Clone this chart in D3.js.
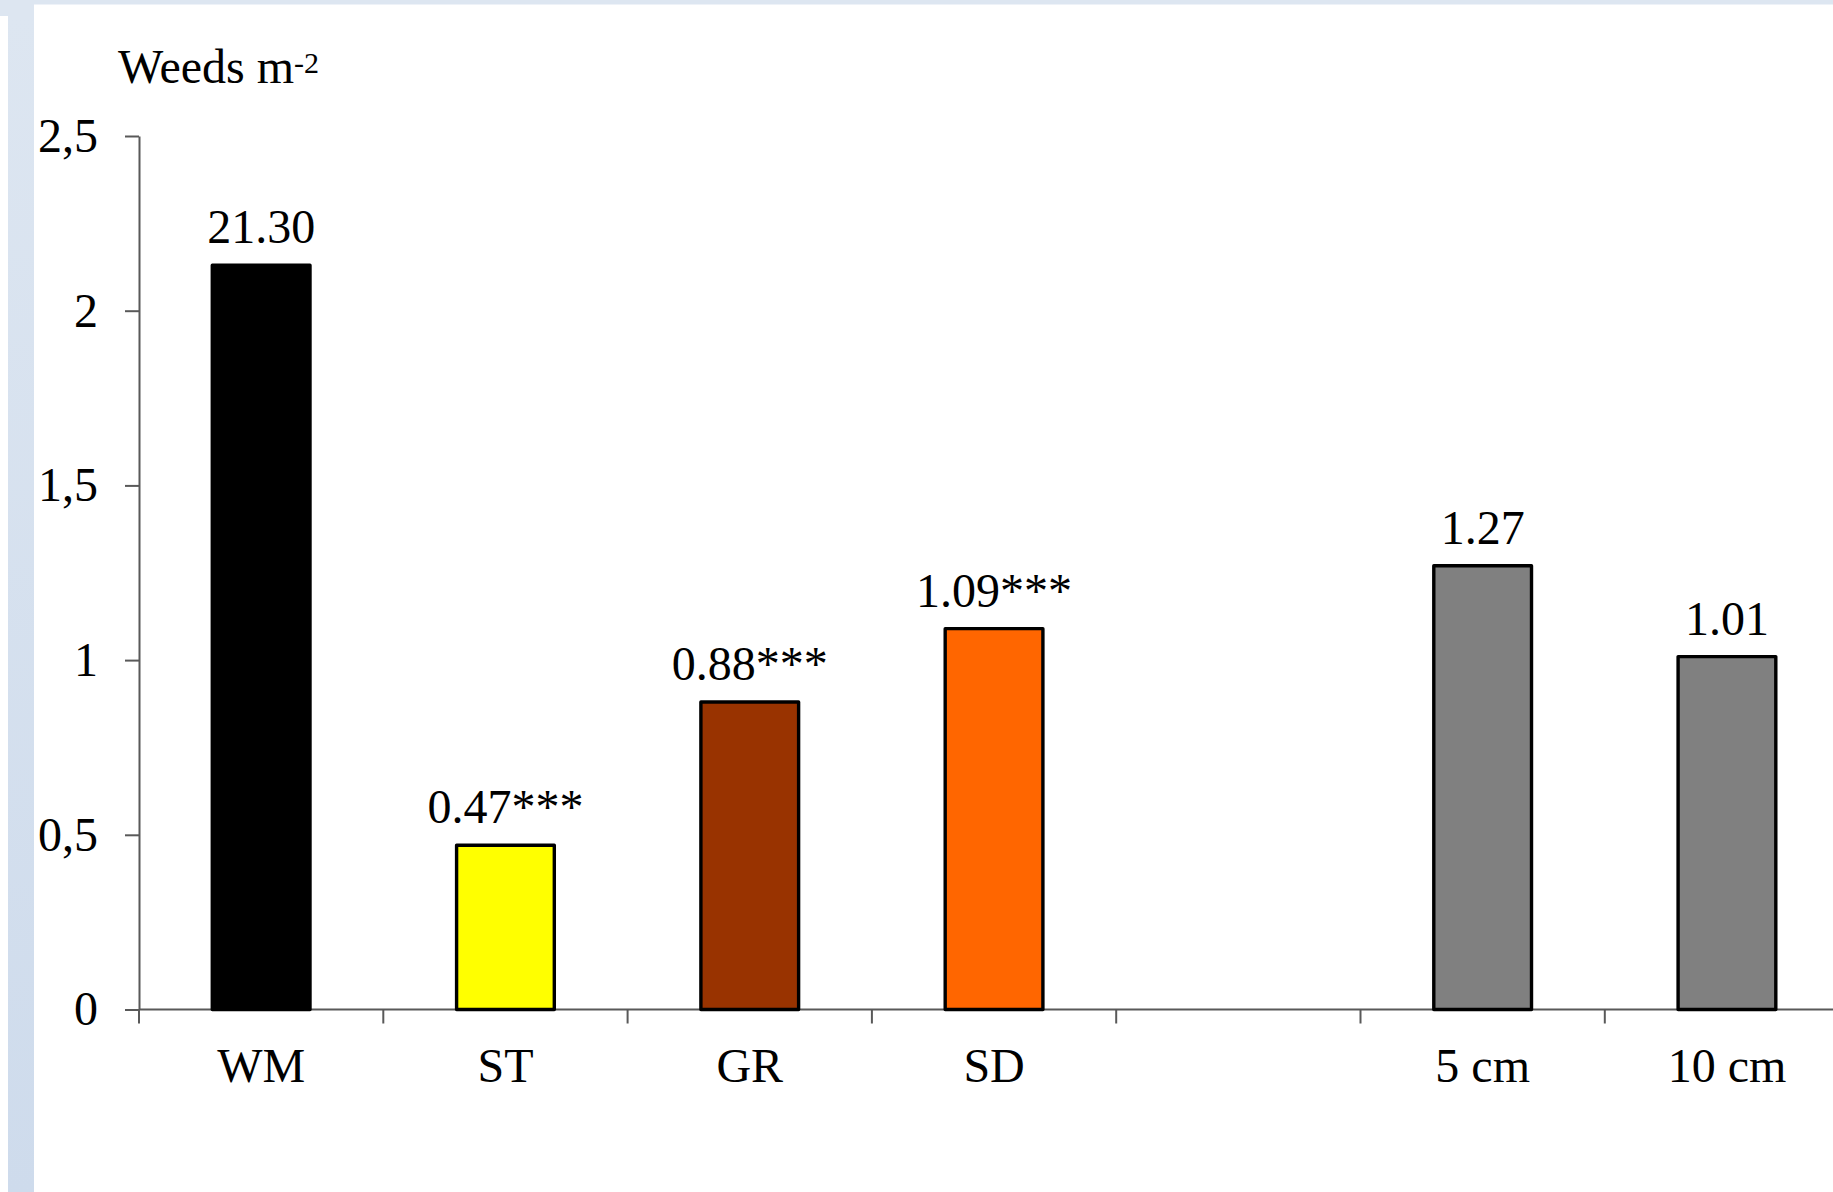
<!DOCTYPE html>
<html>
<head>
<meta charset="utf-8">
<script src="https://cdn.jsdelivr.net/npm/d3@7"></script>
<style>
  html, body { margin: 0; padding: 0; background: #ffffff; }
  svg { display: block; }
  text { font-family: "Liberation Serif", "Times New Roman", serif; fill: #000; }
</style>
</head>
<body>
<svg id="chart" width="1833" height="1192"></svg>
<script>
// Weed density per treatment (weeds per m²)
const categories   = ["WM", "ST", "GR", "SD", "", "5 cm", "10 cm"];
const weedValues   = [21.30, 0.47, 0.88, 1.09, null, 1.27, 1.01];
const significance = ["", "***", "***", "***", "", "", ""];
// WM is off the 0–2.5 scale, so its bar is drawn at one tenth of its value
const plotDivisor  = [10, 1, 1, 1, 1, 1, 1];
const yTickValues  = [0, 0.5, 1, 1.5, 2, 2.5];
const yTickLabels  = ["0", "0,5", "1", "1,5", "2", "2,5"];
const barColors    = ["#000000", "#ffff00", "#993300", "#ff6600", "none", "#808080", "#808080"];

const W = 1833, H = 1192;
const FONT = 48;
const svg = d3.select("#chart");

// page frame (light blue border strips)
const defs = svg.append("defs");
const grad = defs.append("linearGradient").attr("id", "stripGrad")
  .attr("x1", 0).attr("y1", 0).attr("x2", 0).attr("y2", 1);
grad.append("stop").attr("offset", "0%").attr("stop-color", "#dde6f1");
grad.append("stop").attr("offset", "100%").attr("stop-color", "#cedbec");
svg.append("rect").attr("x", 0).attr("y", 0).attr("width", W).attr("height", 4.5).attr("fill", "#dde6f1");
svg.append("rect").attr("x", 0).attr("y", 0).attr("width", 34).attr("height", 16).attr("fill", "#dde6f1");
svg.append("rect").attr("x", 8).attr("y", 16).attr("width", 26).attr("height", H - 16).attr("fill", "url(#stripGrad)");

// plot geometry
const x0 = 139, step = 244.3;
const yBase = 1009.5, yTop = 136;

const x = d3.scaleBand()
  .domain(categories)
  .range([x0, x0 + step * categories.length])
  .paddingInner(0.6)
  .paddingOuter(0.3);

const y = d3.scaleLinear().domain([0, 2.5]).range([yBase, yTop]);

const rows = categories.map((c, i) => ({
  cat: c, value: weedValues[i], sig: significance[i],
  plotted: weedValues[i] == null ? null : weedValues[i] / plotDivisor[i],
  color: barColors[i]
})).filter(d => d.value != null);

// y axis
const yAxis = d3.axisLeft(y)
  .tickValues(yTickValues)
  .tickFormat((d, i) => yTickLabels[i])
  .tickSize(14)
  .tickSizeOuter(0)
  .tickPadding(27);
const gy = svg.append("g").attr("transform", `translate(${x0},0)`).call(yAxis);
gy.selectAll("path, line").attr("stroke", "#595959").attr("stroke-width", 2);
gy.selectAll("text").style("font-size", FONT + "px").attr("font-family", null).attr("fill", "#000");

// x axis: labels centred on bars, ticks on slot boundaries
const xAxis = d3.axisBottom(x).tickSize(0).tickSizeOuter(0);
const gx = svg.append("g").attr("transform", `translate(0,${yBase})`).call(xAxis);
gx.select("path.domain").remove();
gx.selectAll("text").attr("dy", null).attr("y", 72)
  .style("font-size", FONT + "px").attr("font-family", null).attr("fill", "#000");

svg.append("line")
  .attr("x1", x0).attr("x2", W)
  .attr("y1", yBase).attr("y2", yBase)
  .attr("stroke", "#595959").attr("stroke-width", 2);

const boundaries = d3.range(categories.length + 1)
  .map(i => (i < categories.length ? x(categories[i]) - (x.step() - x.bandwidth()) / 2 : x.range()[1]));
svg.append("g").selectAll("line").data(boundaries).join("line")
  .attr("x1", d => d).attr("x2", d => d)
  .attr("y1", yBase).attr("y2", yBase + 14)
  .attr("stroke", "#595959").attr("stroke-width", 2);

// bars
svg.append("g").selectAll("rect").data(rows).join("rect")
  .attr("x", d => x(d.cat))
  .attr("y", d => y(d.plotted))
  .attr("width", x.bandwidth())
  .attr("height", d => y(0) - y(d.plotted))
  .attr("fill", d => d.color)
  .attr("stroke", "#000")
  .attr("stroke-width", 3.4)
  .attr("stroke-linejoin", "round");

// value labels
svg.append("g").selectAll("text").data(rows).join("text")
  .attr("x", d => x(d.cat) + x.bandwidth() / 2)
  .attr("y", d => y(d.plotted) - 22)
  .attr("text-anchor", "middle")
  .style("font-size", FONT + "px")
  .text(d => d.value.toFixed(2) + d.sig);

// axis unit label
const unit = svg.append("text").attr("x", 118).attr("y", 83).style("font-size", FONT + "px");
unit.append("tspan").text("Weeds m");
unit.append("tspan").attr("dy", -10).style("font-size", "30px").text("-2");
</script>
</body>
</html>
